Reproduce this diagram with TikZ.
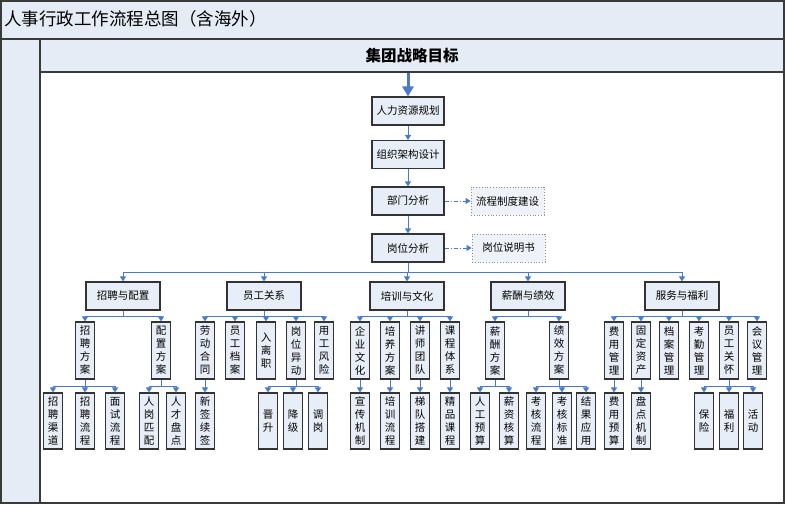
\documentclass[tikz,border=0pt]{standalone}
\usepackage{fontspec}
\setmainfont{Noto Sans CJK SC}
\newfontfamily\cjk{Noto Sans CJK SC}
\usetikzlibrary{arrows.meta}
\definecolor{boxfill}{HTML}{E8EEF7}
\definecolor{bgblue}{HTML}{E6ECF6}
\definecolor{lineblue}{HTML}{4A7BC8}
\definecolor{framec}{HTML}{3A3A3A}
\tikzset{
  hbox/.style={draw=black!80, line width=1.1pt, fill=boxfill, minimum width=72pt, minimum height=28pt, inner sep=0pt, font=\cjk\fontsize{10.5}{13}\selectfont},
  lbox/.style={hbox, minimum width=74pt},
  dbox/.style={draw=black!45, dotted, line width=0.8pt, fill=boxfill!70, minimum width=73pt, minimum height=28pt, inner sep=0pt, font=\cjk\fontsize{10.5}{13}\selectfont},
  vbox/.style={draw=black!80, line width=1.1pt, fill=boxfill, minimum width=19pt, minimum height=57pt, inner sep=0pt, align=center, font=\cjk\fontsize{10.5}{13}\selectfont},
  wbox/.style={vbox, minimum height=56pt},
  conn/.style={draw=lineblue, line width=1pt, -{Triangle[width=6pt,length=5pt]}},
  dconn/.style={draw=lineblue, line width=0.9pt, dash pattern=on 4pt off 2pt on 1pt off 2pt, -{Triangle[width=6pt,length=5pt]}},
  bigarrow/.style={draw=lineblue, line width=3pt, -{Triangle[width=11pt,length=10pt]}},
}
\begin{document}
\begin{tikzpicture}[x=1pt,y=-1pt]
\useasboundingbox (0,0) rectangle (787,506);
% frame
\fill[bgblue] (1,1) rectangle (784,39);
\fill[bgblue] (1,39) rectangle (40,503);
\fill[bgblue] (40,40) rectangle (784,72);
\draw[framec, line width=1.3pt] (1,1) rectangle (784,503);
\draw[framec, line width=2pt] (1,39) -- (784,39);
\draw[framec, line width=1.2pt] (40,39) -- (40,503);
\draw[framec, line width=1.2pt] (40,72) -- (784,72);
\node[anchor=west, inner sep=0pt, font=\cjk\fontsize{17.5}{20}\selectfont] (title) at (4,19) {人事行政工作流程总图（含海外）};
\node[inner sep=0pt, font=\cjk\bfseries\fontsize{15.5}{18}\selectfont] (goal) at (412,56) {集团战略目标};
\coordinate (topc) at (408,73);
% main chain
\node[hbox] (hr) at (408,111) {人力资源规划};
\node[hbox] (org) at (408,154.5) {组织架构设计};
\node[hbox] (dept) at (408,201) {部门分析};
\node[hbox] (post) at (408,248) {岗位分析};
\node[dbox] (proc) at (507.5,201) {流程制度建设};
\node[dbox] (desc) at (508.5,248) {岗位说明书};
\draw[bigarrow] (topc) -- (hr.north);
\draw[conn] (hr) -- (org);
\draw[conn] (org) -- (dept);
\draw[conn] (dept) -- (post);
\draw[dconn] (dept) -- (proc);
\draw[dconn] (post) -- (desc);
% level 2
\node[lbox] (zp) at (123,296) {招聘与配置};
\node[lbox] (yg) at (264,296) {员工关系};
\node[lbox] (px) at (407,296) {培训与文化};
\node[lbox] (xc) at (528,296) {薪酬与绩效};
\node[lbox] (fw) at (682,296) {服务与福利};
\foreach \c in {zp,yg,px,xc,fw} \draw[conn] (post.south) -- ++(0,10) -| (\c.north);
% level 3
\node[vbox] (zpfa) at (85,350.5) {招\\聘\\方\\案};
\node[vbox] (pzfa) at (161,350.5) {配\\置\\方\\案};
\node[vbox] (ldht) at (205,350.5) {劳\\动\\合\\同};
\node[vbox] (ygda) at (235,350.5) {员\\工\\档\\案};
\node[vbox] (rlz) at (266,350.5) {入\\离\\职};
\node[vbox] (gwyd) at (296,350.5) {岗\\位\\异\\动};
\node[vbox] (ygfx) at (324,350.5) {用\\工\\风\\险};
\node[vbox] (qywh) at (360,350.5) {企\\业\\文\\化};
\node[vbox] (pyfa) at (390,350.5) {培\\养\\方\\案};
\node[vbox] (jstd) at (420,350.5) {讲\\师\\团\\队};
\node[vbox] (kctx) at (450,350.5) {课\\程\\体\\系};
\node[vbox] (xcfa) at (495,350.5) {薪\\酬\\方\\案};
\node[vbox] (jxfa) at (559,350.5) {绩\\效\\方\\案};
\node[vbox] (fygl) at (614,350.5) {费\\用\\管\\理};
\node[vbox] (gdzc) at (641,350.5) {固\\定\\资\\产};
\node[vbox] (dagl) at (669,350.5) {档\\案\\管\\理};
\node[vbox] (kqgl) at (699,350.5) {考\\勤\\管\\理};
\node[vbox] (yggh) at (729,350.5) {员\\工\\关\\怀};
\node[vbox] (hygl) at (757,350.5) {会\\议\\管\\理};
\foreach \c in {zpfa,pzfa} \draw[conn] (zp.south) -- ++(0,6) -| (\c.north);
\foreach \c in {ldht,ygda,rlz,gwyd,ygfx} \draw[conn] (yg.south) -- ++(0,6) -| (\c.north);
\foreach \c in {qywh,pyfa,jstd,kctx} \draw[conn] (px.south) -- ++(0,6) -| (\c.north);
\foreach \c in {xcfa,jxfa} \draw[conn] (xc.south) -- ++(0,6) -| (\c.north);
\foreach \c in {fygl,gdzc,dagl,kqgl,yggh,hygl} \draw[conn] (fw.south) -- ++(0,6) -| (\c.north);
% level 4
\node[wbox] (zpqd) at (53,421) {招\\聘\\渠\\道};
\node[wbox] (zplc) at (85,421) {招\\聘\\流\\程};
\node[wbox] (mslc) at (115,421) {面\\试\\流\\程};
\node[wbox] (rgpp) at (149,421) {人\\岗\\匹\\配};
\node[wbox] (rcpd) at (176,421) {人\\才\\盘\\点};
\node[wbox] (xqxq) at (205,421) {新\\签\\续\\签};
\node[wbox] (js) at (268,421) {晋\\升};
\node[wbox] (jj) at (293,421) {降\\级};
\node[wbox] (dg) at (318,421) {调\\岗};
\node[wbox] (xcjz) at (360,421) {宣\\传\\机\\制};
\node[wbox] (pxlc) at (390,421) {培\\训\\流\\程};
\node[wbox] (tdjs) at (420,421) {梯\\队\\搭\\建};
\node[wbox] (jpkc) at (450,421) {精\\品\\课\\程};
\node[wbox] (rgys) at (480,421) {人\\工\\预\\算};
\node[wbox] (xzhs) at (509,421) {薪\\资\\核\\算};
\node[wbox] (khlc) at (536,421) {考\\核\\流\\程};
\node[wbox] (khbz) at (562,421) {考\\核\\标\\准};
\node[wbox] (jgyy) at (586,421) {结\\果\\应\\用};
\node[wbox] (fyys) at (614,421) {费\\用\\预\\算};
\node[wbox] (pdjz) at (641,421) {盘\\点\\机\\制};
\node[wbox] (bx) at (704,421) {保\\险};
\node[wbox] (fl) at (729,421) {福\\利};
\node[wbox] (hd) at (753,421) {活\\动};
\foreach \c in {zpqd,zplc,mslc} \draw[conn] (zpfa.south) -- ++(0,7) -| (\c.north);
\foreach \c in {rgpp,rcpd} \draw[conn] (pzfa.south) -- ++(0,7) -| (\c.north);
\draw[conn] (ldht) -- (xqxq);
\foreach \c in {js,jj,dg} \draw[conn] (gwyd.south) -- ++(0,7) -| (\c.north);
\draw[conn] (qywh) -- (xcjz);
\draw[conn] (pyfa) -- (pxlc);
\draw[conn] (jstd) -- (tdjs);
\draw[conn] (kctx) -- (jpkc);
\foreach \c in {rgys,xzhs} \draw[conn] (xcfa.south) -- ++(0,7) -| (\c.north);
\foreach \c in {khlc,khbz,jgyy} \draw[conn] (jxfa.south) -- ++(0,7) -| (\c.north);
\draw[conn] (fygl) -- (fyys);
\draw[conn] (gdzc) -- (pdjz);
\foreach \c in {bx,fl,hd} \draw[conn] (yggh.south) -- ++(0,7) -| (\c.north);
\end{tikzpicture}
\end{document}
